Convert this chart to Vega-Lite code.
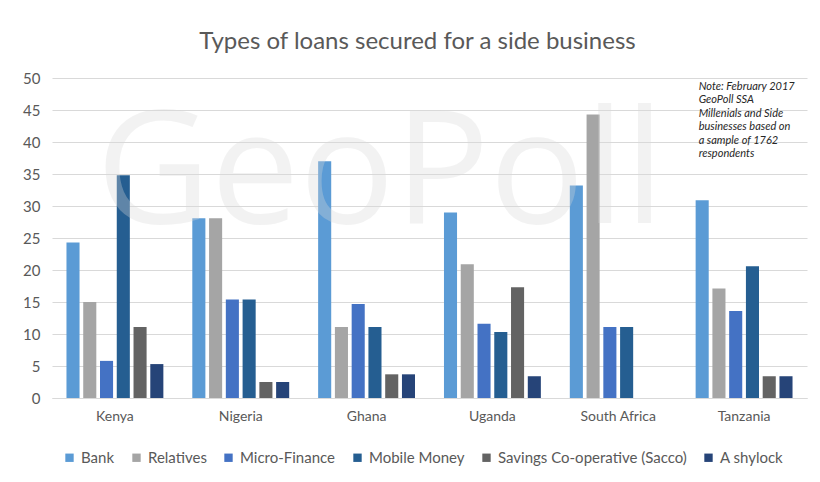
{
  "$schema": "https://vega.github.io/schema/vega-lite/v6.json",
  "width": 755,
  "height": 320,
  "padding": {"left": 22, "top": 30, "right": 12, "bottom": 10},
  "background": "white",
  "config": {
    "font": "Lato",
    "view": {"stroke": null},
    "axis": {"labelColor": "#595959", "labelFont": "Lato", "labelFontSize": 15, "ticks": false, "titleColor": "#595959"},
    "legend": {"labelColor": "#595959", "labelFont": "Lato", "labelFontSize": 15}
  },
  "title": {"text": "Types of loans secured for a side business", "fontSize": 24, "fontWeight": "normal", "color": "#595959", "font": "Lato", "offset": 17, "dx": -12},
  "data": {"values": [
    {"country": "Kenya", "type": "Bank", "value": 24.3},
    {"country": "Kenya", "type": "Relatives", "value": 15.0},
    {"country": "Kenya", "type": "Micro-Finance", "value": 5.8},
    {"country": "Kenya", "type": "Mobile Money", "value": 34.8},
    {"country": "Kenya", "type": "Savings Co-operative (Sacco)", "value": 11.1},
    {"country": "Kenya", "type": "A shylock", "value": 5.3},
    {"country": "Nigeria", "type": "Bank", "value": 28.1},
    {"country": "Nigeria", "type": "Relatives", "value": 28.1},
    {"country": "Nigeria", "type": "Micro-Finance", "value": 15.4},
    {"country": "Nigeria", "type": "Mobile Money", "value": 15.4},
    {"country": "Nigeria", "type": "Savings Co-operative (Sacco)", "value": 2.5},
    {"country": "Nigeria", "type": "A shylock", "value": 2.5},
    {"country": "Ghana", "type": "Bank", "value": 37.0},
    {"country": "Ghana", "type": "Relatives", "value": 11.1},
    {"country": "Ghana", "type": "Micro-Finance", "value": 14.7},
    {"country": "Ghana", "type": "Mobile Money", "value": 11.1},
    {"country": "Ghana", "type": "Savings Co-operative (Sacco)", "value": 3.7},
    {"country": "Ghana", "type": "A shylock", "value": 3.7},
    {"country": "Uganda", "type": "Bank", "value": 29.0},
    {"country": "Uganda", "type": "Relatives", "value": 20.9},
    {"country": "Uganda", "type": "Micro-Finance", "value": 11.6},
    {"country": "Uganda", "type": "Mobile Money", "value": 10.3},
    {"country": "Uganda", "type": "Savings Co-operative (Sacco)", "value": 17.3},
    {"country": "Uganda", "type": "A shylock", "value": 3.4},
    {"country": "South Africa", "type": "Bank", "value": 33.2},
    {"country": "South Africa", "type": "Relatives", "value": 44.3},
    {"country": "South Africa", "type": "Micro-Finance", "value": 11.1},
    {"country": "South Africa", "type": "Mobile Money", "value": 11.1},
    {"country": "South Africa", "type": "Savings Co-operative (Sacco)", "value": 0},
    {"country": "South Africa", "type": "A shylock", "value": 0},
    {"country": "Tanzania", "type": "Bank", "value": 30.9},
    {"country": "Tanzania", "type": "Relatives", "value": 17.1},
    {"country": "Tanzania", "type": "Micro-Finance", "value": 13.6},
    {"country": "Tanzania", "type": "Mobile Money", "value": 20.6},
    {"country": "Tanzania", "type": "Savings Co-operative (Sacco)", "value": 3.4},
    {"country": "Tanzania", "type": "A shylock", "value": 3.4}
  ]},
  "encoding": {
    "x": {
      "field": "country", "type": "nominal", "sort": ["Kenya", "Nigeria", "Ghana", "Uganda", "South Africa", "Tanzania"],
      "scale": {"paddingInner": 0.23, "paddingOuter": 0.115},
      "axis": {"title": null, "labelAngle": 0, "labelFontSize": 14, "labelPadding": 11, "domainColor": "#d9d9d9", "domainWidth": 1}
    },
    "y": {"field": "value", "type": "quantitative", "scale": {"domain": [0, 50]}, "axis": {"title": null, "values": [0,5,10,15,20,25,30,35,40,45,50], "labelOverlap": false, "domain": false, "gridColor": "#d9d9d9", "labelPadding": 12}}
  },
  "layer": [
    {
      "mark": {"type": "bar"},
      "encoding": {
        "xOffset": {"field": "type", "type": "nominal", "sort": ["Bank", "Relatives", "Micro-Finance", "Mobile Money", "Savings Co-operative (Sacco)", "A shylock"], "scale": {"paddingInner": 0.22, "paddingOuter": 0}},
        "color": {
          "field": "type", "type": "nominal",
          "scale": {"domain": ["Bank", "Relatives", "Micro-Finance", "Mobile Money", "Savings Co-operative (Sacco)", "A shylock"], "range": ["#5B9BD5", "#A5A5A5", "#4472C4", "#255E91", "#636363", "#264478"]},
          "legend": {"title": null, "orient": "none", "legendX": 10, "legendY": 372, "direction": "horizontal", "symbolType": "square", "symbolSize": 70, "symbolStrokeWidth": 0, "columnPadding": 14, "labelOffset": 4, "labelLimit": 0}
        }
      }
    },
    {
      "data": {"values": [{"label": "GeoPoll", "country": "Ghana", "value": 27.3}]},
      "mark": {"type": "text", "fontSize": 158, "font": "Open Sans", "color": "#d9d9d9", "opacity": 0.32, "align": "center", "baseline": "alphabetic"},
      "encoding": {
        "x": {"field": "country", "type": "nominal", "bandPosition": 0.64},
        "text": {"field": "label"}
      }
    },
    {
      "data": {"values": [{"note": ["Note: February 2017", "GeoPoll SSA", "Millenials and Side", "businesses based on", "a sample of 1762", "respondents"], "country": "Tanzania", "value": 49.6}]},
      "mark": {"type": "text", "fontSize": 11, "fontStyle": "italic", "font": "Lato", "color": "#262626", "align": "left", "baseline": "top", "lineHeight": 13.5, "dx": 3},
      "encoding": {
        "x": {"field": "country", "type": "nominal", "bandPosition": 0},
        "text": {"field": "note"}
      }
    }
  ]
}
